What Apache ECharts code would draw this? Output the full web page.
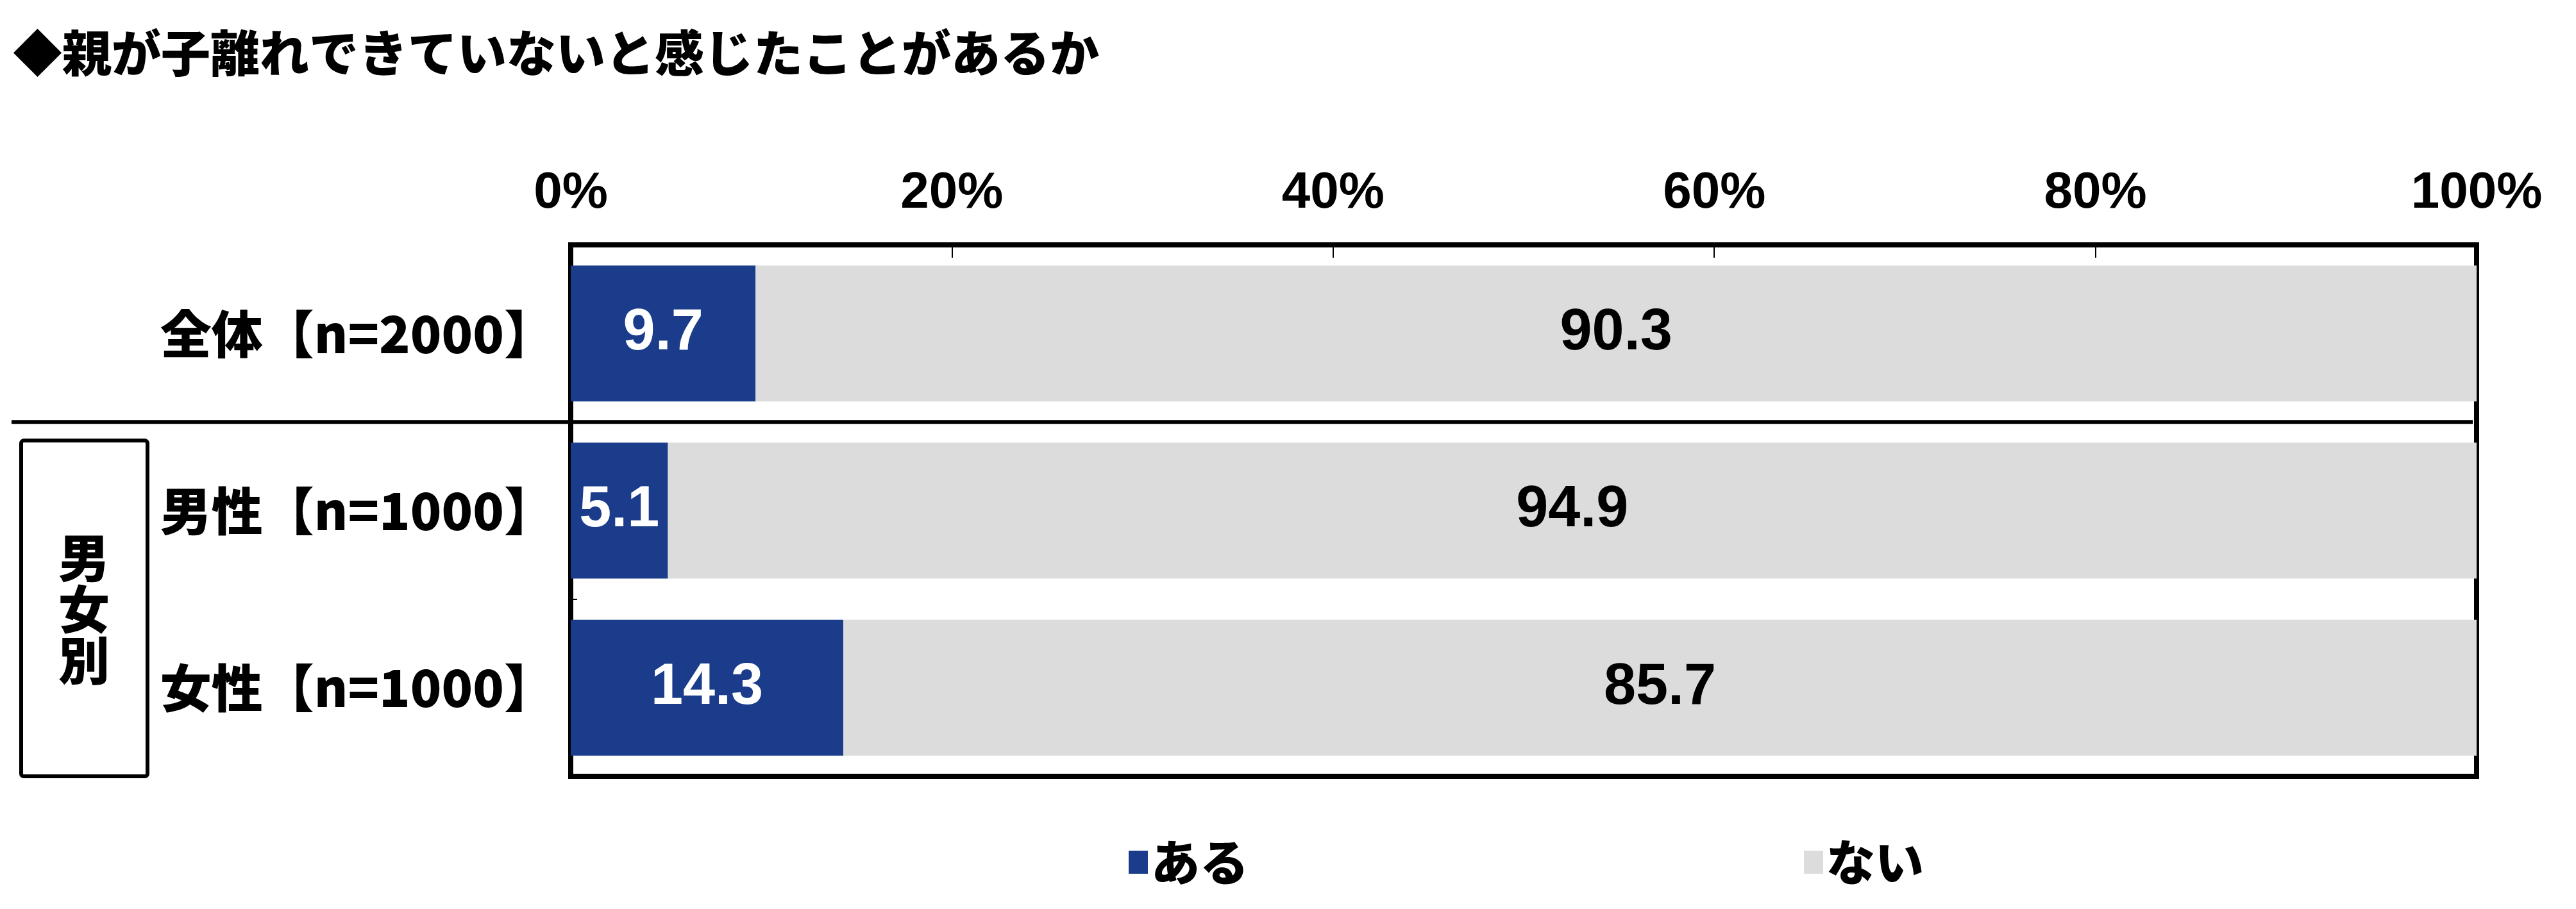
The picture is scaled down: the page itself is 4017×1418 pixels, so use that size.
<!DOCTYPE html>
<html>
<head>
<meta charset="utf-8">
<script src="https://cdn.jsdelivr.net/npm/echarts@6/dist/echarts.min.js"></script>
<style>
html,body{margin:0;padding:0;background:#fff;}
#chart{width:4017px;height:1418px;}
</style>
</head>
<body>
<div id="chart"></div>
<script>
// ---- data ----
const titleText = '◆親が子離れできていないと感じたことがあるか';
const categories = ['全体【n=2000】', '男性【n=1000】', '女性【n=1000】'];
const seriesNames = ['ある', 'ない'];
const valuesAru = [9.7, 5.1, 14.3];
const valuesNai = [90.3, 94.9, 85.7];
const xTicks = [0, 20, 40, 60, 80, 100];
const groupLabel = '男女別';

// ---- font detection ----
function fontAvailable(name) {
  const c = document.createElement('canvas').getContext('2d');
  const t = '100%abcWMi09';
  let diff = false;
  ['monospace', 'serif'].forEach(function (fb) {
    c.font = 'bold 100px ' + fb;
    const a = c.measureText(t).width;
    c.font = "bold 100px '" + name + "', " + fb;
    const b = c.measureText(t).width;
    if (a !== b) diff = true;
  });
  return diff;
}
const NARROW = fontAvailable('Liberation Sans Narrow');
const NUM_FONT = NARROW ? "'Liberation Sans Narrow'" : "'Liberation Sans'";
const NUM_SIZE = NARROW ? 96 : 80;
const JP_FONT = "'Noto Sans CJK JP'";

const BLUE = '#1a3c8a';
const GRAY = '#dcdcdc';

const chart = echarts.init(document.getElementById('chart'));
const option = {
  backgroundColor: '#ffffff',
  animation: false,
  title: {
    text: titleText,
    left: 20,
    top: 44,
    padding: 0,
    textStyle: { fontFamily: JP_FONT, fontSize: 77, fontWeight: 900, color: '#000' }
  },
  legend: {
    data: seriesNames,
    left: 1760,
    top: 1307,
    padding: 0,
    itemWidth: 30,
    itemHeight: 36,
    itemGap: 866,
    icon: 'rect',
    textStyle: { fontFamily: JP_FONT, fontSize: 76, fontWeight: 900, color: '#000' }
  },
  grid: {
    left: 890, right: 155, top: 382, bottom: 207,
    show: true, borderColor: '#000', borderWidth: 8, backgroundColor: 'transparent'
  },
  xAxis: {
    type: 'value',
    position: 'top',
    min: xTicks[0],
    max: xTicks[xTicks.length - 1],
    interval: xTicks[1] - xTicks[0],
    axisLine: { show: false },
    axisTick: { show: true, inside: true, length: 20, lineStyle: { color: '#000', width: 2 } },
    splitLine: { show: false },
    axisLabel: {
      formatter: '{value}%',
      margin: 40,
      fontFamily: NUM_FONT, fontSize: NUM_SIZE, fontWeight: 'bold', color: '#000'
    }
  },
  yAxis: {
    type: 'category',
    inverse: true,
    data: categories,
    axisLine: { show: false },
    axisTick: { show: true, inside: true, length: 10, lineStyle: { color: '#000', width: 2 } },
    axisLabel: {
      margin: 24,
      fontFamily: JP_FONT, fontSize: 80, fontWeight: 900, color: '#000'
    }
  },
  series: [
    {
      name: seriesNames[0], type: 'bar', stack: 'total', data: valuesAru,
      barWidth: '76.7%',
      itemStyle: { color: BLUE },
      label: {
        show: true, position: 'inside', color: '#fff',
        fontFamily: "'Liberation Sans'", fontSize: 90, fontWeight: 'bold',
        formatter: function (p) { return p.value.toFixed(1); }
      }
    },
    {
      name: seriesNames[1], type: 'bar', stack: 'total', data: valuesNai,
      barWidth: '76.7%',
      itemStyle: { color: GRAY },
      label: {
        show: true, position: 'inside', color: '#000',
        fontFamily: "'Liberation Sans'", fontSize: 90, fontWeight: 'bold',
        formatter: function (p) { return p.value.toFixed(1); }
      }
    }
  ]
};
chart.setOption(option);

// decorations computed from the axis scale
const y0 = chart.convertToPixel({ yAxisIndex: 0 }, categories[0]);
const y1 = chart.convertToPixel({ yAxisIndex: 0 }, categories[1]);
const y2 = chart.convertToPixel({ yAxisIndex: 0 }, categories[2]);
const step = y1 - y0;
const sepY = (y0 + y1) / 2;
const gridBottom = y2 + step / 2;
const xRight = chart.convertToPixel({ xAxisIndex: 0 }, 100);

chart.setOption({
  graphic: [
    {
      type: 'line', z: 100,
      shape: { x1: 18, y1: sepY, x2: xRight - 6, y2: sepY },
      style: { stroke: '#000', lineWidth: 6 }
    },
    {
      type: 'rect', z: 100,
      shape: { x: 33, y: sepY + 29, width: 197, height: gridBottom - sepY - 29, r: 4 },
      style: { fill: '#fff', stroke: '#000', lineWidth: 6 }
    },
    {
      type: 'text', z: 101,
      x: 131, y: (sepY + 29 + gridBottom) / 2,
      style: {
        text: groupLabel.split('').join('\n'),
        fontFamily: JP_FONT, fontSize: 80, fontWeight: 900,
        lineHeight: 80, fill: '#000', align: 'center', verticalAlign: 'middle'
      }
    }
  ]
});
</script>
</body>
</html>
